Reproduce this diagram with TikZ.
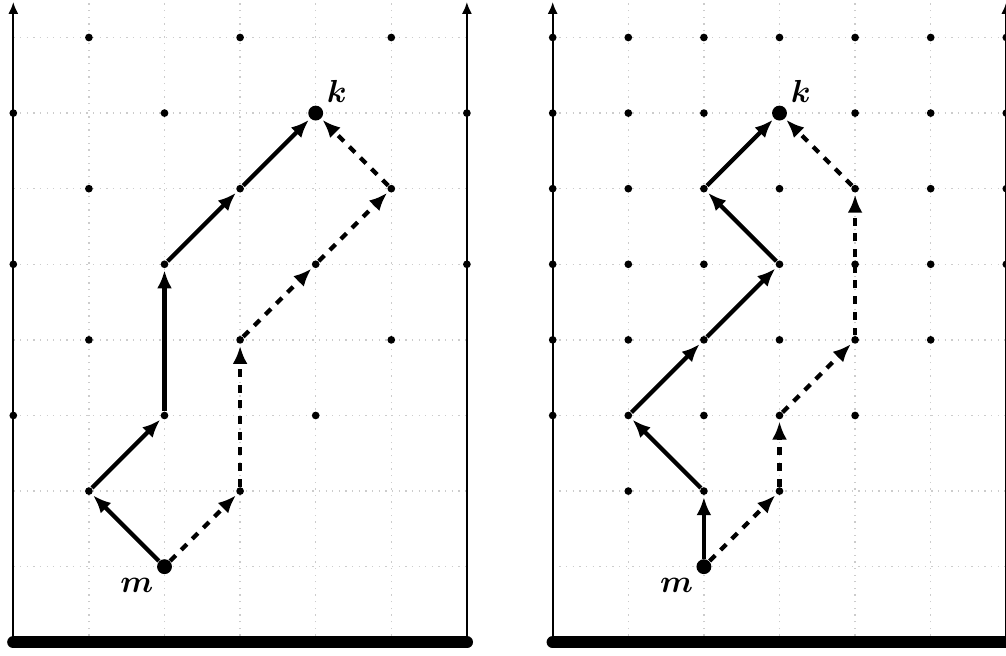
\documentclass[tikz,border=0pt]{standalone}
\usepackage{amsmath}
\usetikzlibrary{arrows.meta}
\tikzset{
  dot/.style={circle,fill=black,inner sep=0pt,minimum size=2.9pt},
  bigdot/.style={circle,fill=black,inner sep=0pt,minimum size=5.6pt},
  gridline/.style={gray!40,dotted,line width=0.5pt},
  axisline/.style={line width=0.75pt,-{Latex[length=4.5pt,width=3.8pt]}},
  floorline/.style={line width=4.6pt,line cap=round},
  solidarrow/.style={line width=1.6pt,-{Latex[length=6.8pt,width=5.6pt]},shorten >=0.6pt},
  dasharrow/.style={solidarrow,dash pattern=on 3pt off 2.9pt},
  lbl/.style={font=\large,inner sep=0pt}
}
\newcommand{\panelframe}{%
  \foreach \x in {1,...,5} \draw[gridline] (\x,0) -- (\x,8.7);
  \foreach \y in {1,...,8} \draw[gridline] (0,\y) -- (6,\y);
  \coordinate (a0) at (0,0);
  \coordinate (a1) at (0,8.47);
  \coordinate (b0) at (6,0);
  \coordinate (b1) at (6,8.47);
  \draw[axisline] (a0) -- (a1);
  \draw[axisline] (b0) -- (b1);
  \draw[floorline] (a0) -- (b0);
}
\begin{document}
\begin{tikzpicture}
\useasboundingbox (-0.176,-0.181) rectangle (13.131,8.496);
% ---------------- left panel ----------------
\begin{scope}[name prefix=L-]
  \panelframe
  \foreach \r in {2,...,8}{
    \foreach \c in {0,...,6}{
      \pgfmathtruncatemacro{\ok}{and(and(abs(\c-2)<=\r-1,isodd(\c+\r)),not(and(\c==4,\r==7)))}
      \ifnum\ok=1 \node[dot] (d-\c-\r) at (\c,\r) {};\fi
    }
  }
  \node[bigdot] (m) at (2,1) {};
  \node[bigdot] (k) at (4,7) {};
  \node[lbl] (mlabel) at (1.635,0.758) {$\boldsymbol{m}$};
  \node[lbl] (klabel) at (4.28,7.28) {$\boldsymbol{k}$};
  % solid path
  \draw[solidarrow] (m) -- (d-1-2);
  \draw[solidarrow] (d-1-2) -- (d-2-3);
  \draw[solidarrow] (d-2-3) -- (d-2-5);
  \draw[solidarrow] (d-2-5) -- (d-3-6);
  \draw[solidarrow] (d-3-6) -- (k);
  % dashed path
  \draw[dasharrow] (m) -- (d-3-2);
  \draw[dasharrow] (d-3-2) -- (d-3-4);
  \draw[dasharrow] (d-3-4) -- (d-4-5);
  \draw[dasharrow] (d-4-5) -- (d-5-6);
  \draw[dasharrow] (d-5-6) -- (k);
\end{scope}
% ---------------- right panel ----------------
\begin{scope}[xshift=7.135cm,name prefix=R-]
  \panelframe
  \foreach \r in {2,...,8}{
    \foreach \c in {0,...,6}{
      \pgfmathtruncatemacro{\ok}{and(abs(\c-2)<=\r-1,not(and(\c==3,\r==7)))}
      \ifnum\ok=1 \node[dot] (d-\c-\r) at (\c,\r) {};\fi
    }
  }
  \node[bigdot] (m) at (2,1) {};
  \node[bigdot] (k) at (3,7) {};
  \node[lbl] (mlabel) at (1.64,0.758) {$\boldsymbol{m}$};
  \node[lbl] (klabel) at (3.28,7.28) {$\boldsymbol{k}$};
  % solid path
  \draw[solidarrow] (m) -- (d-2-2);
  \draw[solidarrow] (d-2-2) -- (d-1-3);
  \draw[solidarrow] (d-1-3) -- (d-2-4);
  \draw[solidarrow] (d-2-4) -- (d-3-5);
  \draw[solidarrow] (d-3-5) -- (d-2-6);
  \draw[solidarrow] (d-2-6) -- (k);
  % dashed path
  \draw[dasharrow] (m) -- (d-3-2);
  \draw[dasharrow] (d-3-2) -- (d-3-3);
  \draw[dasharrow] (d-3-3) -- (d-4-4);
  \draw[dasharrow] (d-4-4) -- (d-4-6);
  \draw[dasharrow] (d-4-6) -- (k);
\end{scope}
\end{tikzpicture}
\end{document}
